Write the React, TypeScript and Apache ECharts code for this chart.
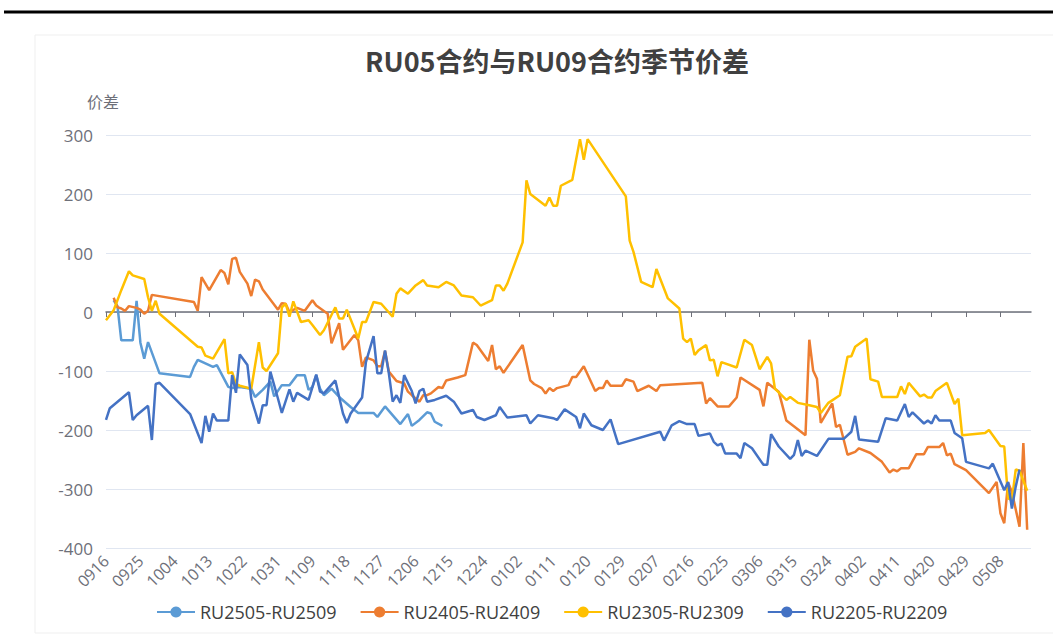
import React, { useEffect, useRef } from "react";
import * as echarts from "echarts";

// month, first day, last day of the category range (one category per calendar day)
const MONTH_RANGES: [string, number, number][] = [
  ["09", 16, 30], ["10", 1, 31], ["11", 1, 30], ["12", 1, 31], ["01", 1, 31],
  ["02", 1, 28], ["03", 1, 31], ["04", 1, 30], ["05", 1, 16],
];
const categories: string[] = [];
for (const [m, s, e] of MONTH_RANGES) {
  for (let d = s; d <= e; d++) categories.push(m + String(d).padStart(2, "0"));
}

const seriesNames = ["RU2505-RU2509", "RU2405-RU2409", "RU2305-RU2309", "RU2205-RU2209"];
const seriesColors = ["#5B9BD5", "#ED7D31", "#FFC000", "#4472C4"];

const ru2505: [string, number][] = [
  ["0918", 20], ["0919", 10], ["0920", -48], ["0923", -48], ["0924", 19], ["0925", -52], ["0926", -79],
  ["0927", -51], ["0930", -104], ["1008", -110], ["1009", -93], ["1010", -81], ["1014", -93], ["1015", -90],
  ["1018", -127], ["1019", -129], ["1021", -127], ["1024", -130], ["1025", -144], ["1027", -132],
  ["1029", -118], ["1030", -143], ["1101", -124], ["1103", -124], ["1105", -107], ["1107", -107],
  ["1108", -132], ["1109", -127], ["1110", -107], ["1111", -130], ["1112", -141], ["1114", -130],
  ["1116", -144], ["1119", -161], ["1121", -171], ["1125", -171], ["1126", -178], ["1128", -160],
  ["1202", -190], ["1204", -173], ["1205", -193], ["1207", -183], ["1209", -170], ["1210", -172],
  ["1211", -186], ["1213", -193],
];

const ru2405: [string, number][] = [
  ["0918", 24], ["0919", 8], ["0920", 6], ["0921", 2], ["0922", 10], ["0924", 7], ["0925", 4], ["0926", -3],
  ["0927", 2], ["0928", 29], ["1009", 17], ["1010", 2], ["1011", 59], ["1013", 37], ["1016", 71], ["1017", 66],
  ["1018", 47], ["1019", 90], ["1020", 92], ["1021", 68], ["1023", 48], ["1024", 27], ["1025", 55], ["1026", 52],
  ["1027", 38], ["1031", 4], ["1101", 15], ["1102", 14], ["1103", 0], ["1105", 7], ["1107", 2], ["1109", 20],
  ["1110", 11], ["1113", -3], ["1114", -53], ["1116", -19], ["1117", -64], ["1120", -39], ["1121", -48],
  ["1122", -93], ["1123", -77], ["1125", -82], ["1126", -92], ["1127", -92], ["1128", -66], ["1129", -101],
  ["1201", -117], ["1203", -121], ["1204", -135], ["1205", -141], ["1207", -152], ["1208", -141], ["1209", -141],
  ["1210", -138], ["1212", -127], ["1213", -129], ["1214", -116], ["1217", -111], ["1219", -107], ["1221", -52],
  ["1222", -56], ["1225", -83], ["1226", -56], ["1227", -97], ["1228", -92], ["1229", -103], ["0103", -56],
  ["0105", -116], ["0106", -122], ["0108", -129], ["0109", -138], ["0110", -129], ["0111", -134], ["0112", -129],
  ["0115", -124], ["0116", -110], ["0117", -110], ["0119", -92], ["0122", -134], ["0123", -129], ["0124", -129],
  ["0125", -116], ["0126", -125], ["0129", -125], ["0130", -114], ["0201", -118], ["0202", -134], ["0205", -125],
  ["0207", -134], ["0208", -124], ["0219", -120], ["0220", -155], ["0221", -146], ["0223", -160], ["0226", -160],
  ["0228", -145], ["0301", -111], ["0306", -132], ["0307", -160], ["0308", -120], ["0311", -135], ["0313", -184],
  ["0318", -209], ["0319", -47], ["0320", -99], ["0321", -113], ["0322", -188], ["0325", -155], ["0326", -195],
  ["0327", -191], ["0329", -242], ["0331", -237], ["0401", -231], ["0404", -239], ["0407", -254], ["0409", -272],
  ["0410", -267], ["0411", -270], ["0412", -265], ["0414", -265], ["0416", -241], ["0418", -241], ["0419", -229],
  ["0422", -229], ["0423", -222], ["0424", -243], ["0425", -240], ["0426", -258], ["0429", -268], ["0505", -307],
  ["0507", -288], ["0508", -341], ["0509", -358], ["0510", -289], ["0511", -305], ["0513", -364], ["0514", -222],
  ["0515", -369],
];

const ru2305: [string, number][] = [
  ["0916", -14], ["0918", 3], ["0920", 37], ["0922", 69], ["0923", 62], ["0926", 56], ["0927", 25], ["0928", 2],
  ["0929", 19], ["0930", -3], ["1010", -59], ["1011", -60], ["1012", -74], ["1014", -79], ["1017", -46],
  ["1018", -104], ["1019", -102], ["1020", -122], ["1021", -125], ["1024", -130], ["1026", -51], ["1027", -94],
  ["1028", -100], ["1031", -70], ["1101", 8], ["1102", 14], ["1103", -8], ["1104", 18], ["1106", -17],
  ["1108", -14], ["1109", -22], ["1111", -39], ["1112", -31], ["1115", 8], ["1116", -11], ["1117", -11],
  ["1118", 4], ["1121", -45], ["1122", -17], ["1123", -17], ["1125", 17], ["1127", 14], ["1130", -8],
  ["1201", 31], ["1202", 40], ["1204", 31], ["1206", 45], ["1208", 54], ["1209", 45], ["1212", 42], ["1214", 51],
  ["1216", 45], ["1218", 28], ["1221", 25], ["1223", 11], ["1226", 20], ["1227", 45], ["1228", 45], ["1229", 36],
  ["1230", 48], ["0103", 118], ["0104", 223], ["0105", 200], ["0109", 180], ["0110", 194], ["0111", 180],
  ["0112", 180], ["0113", 214], ["0116", 224], ["0118", 293], ["0119", 258], ["0120", 293], ["0130", 196],
  ["0131", 121], ["0201", 102], ["0203", 51], ["0206", 42], ["0207", 73], ["0210", 23], ["0213", 6],
  ["0214", -45], ["0215", -51], ["0216", -45], ["0217", -73], ["0218", -65], ["0220", -56], ["0221", -82],
  ["0222", -81], ["0223", -109], ["0224", -85], ["0228", -94], ["0302", -47], ["0304", -56], ["0306", -97],
  ["0308", -76], ["0309", -87], ["0310", -130], ["0313", -149], ["0314", -144], ["0316", -154], ["0319", -158],
  ["0321", -161], ["0322", -171], ["0324", -154], ["0327", -141], ["0329", -76], ["0330", -75], ["0331", -59],
  ["0403", -45], ["0404", -114], ["0406", -118], ["0407", -144], ["0411", -144], ["0412", -126], ["0413", -139],
  ["0414", -120], ["0417", -143], ["0418", -140], ["0419", -145], ["0420", -145], ["0421", -134], ["0424", -120],
  ["0426", -156], ["0427", -147], ["0428", -209], ["0504", -205], ["0505", -200], ["0508", -227], ["0509", -228],
  ["0510", -316], ["0511", -319], ["0512", -267], ["0513", -269], ["0515", -303],
];

const ru2205: [string, number][] = [
  ["0916", -183], ["0917", -163], ["0922", -136], ["0923", -183], ["0924", -175], ["0927", -159], ["0928", -217],
  ["0929", -122], ["0930", -120], ["1008", -173], ["1011", -222], ["1012", -176], ["1013", -203], ["1014", -172],
  ["1015", -184], ["1018", -184], ["1019", -107], ["1020", -137], ["1021", -72], ["1023", -90], ["1024", -147],
  ["1026", -189], ["1027", -158], ["1028", -158], ["1029", -101], ["1031", -147], ["1101", -171], ["1103", -131],
  ["1104", -152], ["1105", -137], ["1108", -149], ["1110", -106], ["1111", -135], ["1112", -138], ["1115", -116],
  ["1117", -172], ["1118", -188], ["1119", -172], ["1122", -145], ["1123", -85], ["1125", -41], ["1126", -104],
  ["1127", -104], ["1128", -65], ["1129", -104], ["1130", -152], ["1201", -141], ["1202", -154], ["1203", -107],
  ["1205", -134], ["1206", -155], ["1207", -134], ["1208", -130], ["1209", -152], ["1211", -149], ["1214", -142],
  ["1216", -152], ["1218", -172], ["1221", -166], ["1222", -178], ["1224", -183], ["1227", -175], ["1228", -161],
  ["1230", -179], ["0104", -175], ["0105", -189], ["0107", -175], ["0111", -180], ["0112", -183], ["0114", -165],
  ["0117", -178], ["0118", -197], ["0119", -172], ["0121", -192], ["0124", -200], ["0126", -182], ["0128", -224],
  ["0208", -203], ["0209", -218], ["0211", -192], ["0213", -185], ["0215", -190], ["0217", -190], ["0218", -210],
  ["0221", -206], ["0222", -220], ["0223", -226], ["0224", -223], ["0225", -240], ["0228", -240], ["0301", -248],
  ["0302", -222], ["0304", -231], ["0307", -259], ["0308", -259], ["0309", -207], ["0311", -228], ["0314", -249],
  ["0315", -242], ["0316", -217], ["0317", -244], ["0318", -235], ["0321", -244], ["0324", -215], ["0328", -215],
  ["0330", -203], ["0331", -176], ["0401", -216], ["0406", -220], ["0408", -180], ["0411", -184], ["0413", -156],
  ["0414", -178], ["0415", -170], ["0418", -189], ["0419", -184], ["0420", -189], ["0421", -175], ["0422", -184],
  ["0425", -184], ["0426", -205], ["0428", -214], ["0429", -254], ["0505", -265], ["0506", -257], ["0509", -302],
  ["0510", -288], ["0511", -333], ["0512", -296], ["0513", -267],
];

const seriesData = [ru2505, ru2405, ru2305, ru2205];

const FONT = "'Open Sans', 'Noto Sans CJK SC', sans-serif";
const AXIS_GREY = "#6E7079";

export default function App() {
  const ref = useRef<HTMLDivElement>(null);
  useEffect(() => {
    if (!ref.current) return;
    const chart = echarts.init(ref.current, undefined, { renderer: "svg" });
    chart.setOption({
      animation: false,
      backgroundColor: "#ffffff",
      textStyle: { fontFamily: FONT },
      title: {
        text: "RU05合约与RU09合约季节价差",
        left: 552,
        top: 42,
        textAlign: "center",
        textStyle: { fontFamily: "'Noto Sans CJK SC', sans-serif", fontSize: 27, fontWeight: "bold", color: "#404040" },
      },
      legend: {
        bottom: 17,
        left: 151,
        itemWidth: 38,
        itemHeight: 14,
        itemGap: 23,
        textStyle: { fontSize: 18, color: "#404040", fontFamily: FONT },
        data: seriesNames,
      },
      grid: { left: 106, right: 22, top: 135, bottom: 95 },
      xAxis: [
        {
          type: "category",
          data: categories,
          boundaryGap: false,
          position: "bottom",
          axisLine: { show: false, onZero: false },
          axisTick: { show: false },
          axisLabel: { interval: 8, rotate: 45, color: AXIS_GREY, fontSize: 16, margin: 10, fontFamily: FONT },
          splitLine: { show: false },
        },
        {
          type: "category",
          data: categories,
          boundaryGap: false,
          position: "top",
          axisLine: { show: true, onZero: true, lineStyle: { color: AXIS_GREY, width: 1.5 } },
          axisTick: { show: true, interval: 8, inside: true, length: 5, lineStyle: { color: AXIS_GREY } },
          axisLabel: { show: false },
          splitLine: { show: false },
        },
      ],
      yAxis: {
        type: "value",
        min: -400,
        max: 300,
        interval: 100,
        name: "价差",
        nameGap: 26,
        nameTextStyle: { color: AXIS_GREY, fontSize: 16, fontFamily: "'Noto Sans CJK SC', sans-serif", padding: [0, 6, 0, 0] },
        axisLine: { show: false },
        axisTick: { show: false },
        axisLabel: { color: AXIS_GREY, fontSize: 17, margin: 13, fontFamily: FONT },
        splitLine: { lineStyle: { color: "#E0E6F1" } },
      },
      graphic: [
        { type: "line", shape: { x1: 4, y1: 12, x2: 1053, y2: 12 }, style: { stroke: "#000", lineWidth: 3 }, silent: true },
        { type: "rect", shape: { x: 35, y: 35, width: 1030, height: 598 }, style: { fill: "none", stroke: "#EFEFEF", lineWidth: 1 }, silent: true },
      ],
      series: seriesNames.map((name, i) => ({
        name,
        type: "line",
        xAxisIndex: 0,
        data: seriesData[i],
        symbol: "circle",
        symbolSize: 14,
        showSymbol: false,
        lineStyle: { width: 2.5, color: seriesColors[i] },
        itemStyle: { color: seriesColors[i] },
      })),
    });
    return () => chart.dispose();
  }, []);
  return (
    <div
      ref={ref}
      style={{ position: "fixed", left: 0, top: 0, width: 1053, height: 643, background: "#fff" }}
    />
  );
}
